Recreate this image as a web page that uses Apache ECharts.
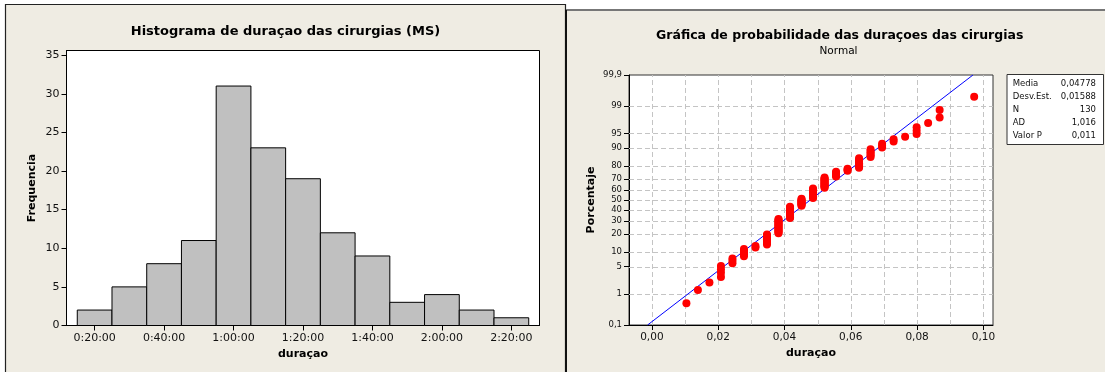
<!DOCTYPE html>
<html>
<head>
<meta charset="utf-8">
<script src="https://cdn.jsdelivr.net/npm/echarts@6/dist/echarts.min.js"></script>
<style>
  html, body { margin: 0; padding: 0; background: #ffffff; }
  #c { width: 1105px; height: 372px; }
</style>
</head>
<body>
<div id="c"></div>
<script>
// ---- Histogram: bin centres (minutes) and frequencies ----
const binCenters = [20, 30, 40, 50, 60, 70, 80, 90, 100, 110, 120, 130, 140];
const binCounts  = [2, 5, 8, 11, 31, 23, 19, 12, 9, 3, 4, 2, 1];
const binWidth = 10;
const histXTicks = [20, 40, 60, 80, 100, 120, 140];
const histYTicks = [0, 5, 10, 15, 20, 25, 30, 35];

// ---- Probability plot: observed durations (minutes) and how many surgeries had each ----
const durMinutes = [15, 20, 25, 30, 35, 40, 45, 50, 55, 60, 65, 70, 75, 80, 85, 90, 95, 100, 105, 110, 115, 120, 125, 140];
const durCounts  = [1, 1, 1, 4, 3, 5, 2, 9, 16, 15, 10, 13, 13, 6, 3, 9, 6, 3, 2, 1, 3, 1, 2, 1];

// Fitted normal (durations in days) and summary table
const fitMean = 0.04778;
const fitSd = 0.01588;
const statLabels = ['Media', 'Desv.Est.', 'N', 'AD', 'Valor P'];
const statValues = ['0,04778', '0,01588', '130', '1,016', '0,011'];

// Axis ticks of the probability plot
const probYTicks = [0.1, 1, 5, 10, 20, 30, 40, 50, 60, 70, 80, 90, 95, 99, 99.9];
const probXTicks = [0, 0.02, 0.04, 0.06, 0.08, 0.10];
const probXGrid  = [0, 0.01, 0.02, 0.03, 0.04, 0.05, 0.06, 0.07, 0.08, 0.09, 0.10];

const BG = '#efece3';
const FONT = '"DejaVu Sans", Verdana, sans-serif';

// Inverse of the standard normal CDF (Acklam's rational approximation)
function normInv(p) {
  const a = [-3.969683028665376e+01, 2.209460984245205e+02, -2.759285104469687e+02, 1.383577518672690e+02, -3.066479806614716e+01, 2.506628277459239e+00];
  const b = [-5.447609879822406e+01, 1.615858368580409e+02, -1.556989798598866e+02, 6.680131188771972e+01, -1.328068155288572e+01];
  const c = [-7.784894002430293e-03, -3.223964580411365e-01, -2.400758277161838e+00, -2.549732539343734e+00, 4.374664141464968e+00, 2.938163982698783e+00];
  const d = [7.784695709041462e-03, 3.224671290700398e-01, 2.445134137142996e+00, 3.754408661907416e+00];
  const pl = 0.02425, ph = 1 - pl;
  let q, r;
  if (p < pl) {
    q = Math.sqrt(-2 * Math.log(p));
    return (((((c[0] * q + c[1]) * q + c[2]) * q + c[3]) * q + c[4]) * q + c[5]) / ((((d[0] * q + d[1]) * q + d[2]) * q + d[3]) * q + 1);
  }
  if (p > ph) {
    q = Math.sqrt(-2 * Math.log(1 - p));
    return -(((((c[0] * q + c[1]) * q + c[2]) * q + c[3]) * q + c[4]) * q + c[5]) / ((((d[0] * q + d[1]) * q + d[2]) * q + d[3]) * q + 1);
  }
  q = p - 0.5; r = q * q;
  return (((((a[0] * r + a[1]) * r + a[2]) * r + a[3]) * r + a[4]) * r + a[5]) * q / (((((b[0] * r + b[1]) * r + b[2]) * r + b[3]) * r + b[4]) * r + 1);
}

// Probability-scale axis works in z units; labels are mapped back to percent
const yTickZ = probYTicks.map(p => normInv(p / 100));
const zLow = yTickZ[0], zHigh = yTickZ[yTickZ.length - 1];
const xLow = -0.0069, xHigh = 0.1029;
function pctLabel(z) {
  let best = 0;
  yTickZ.forEach((t, i) => { if (Math.abs(t - z) < Math.abs(yTickZ[best] - z)) best = i; });
  return String(probYTicks[best]).replace('.', ',');
}

// Plotting positions: Benard median ranks
const n = durCounts.reduce((s, v) => s + v, 0);
const probPoints = [];
let rank = 0;
durMinutes.forEach((m, k) => {
  for (let j = 0; j < durCounts[k]; j++) {
    rank++;
    probPoints.push([m / 1440, normInv((rank - 0.3) / (n + 0.4))]);
  }
});
const fitLine = [[fitMean + fitSd * zLow, zLow], [fitMean + fitSd * zHigh, zHigh]];

function hms(m) {
  const h = Math.floor(m / 60), mm = Math.round(m % 60);
  return h + ':' + (mm < 10 ? '0' : '') + mm + ':00';
}

const chart = echarts.init(document.getElementById('c'), null, { renderer: 'canvas' });

const gridStroke = { stroke: '#c4c4c4', lineWidth: 1, lineDash: [5, 3] };
const axisNameStyle = { fontFamily: FONT, fontWeight: 'bold', fontSize: 11, color: '#000' };

// dashed reference lines: kind 0 = vertical at x, kind 1 = horizontal at z
const gridRefs = probXGrid.map(v => [0, v]).concat(yTickZ.slice(1, -1).map(z => [1, z]));

chart.setOption({
  animation: false,
  backgroundColor: '#ffffff',
  grid: [
    { left: 66.5, top: 50.5, width: 473, height: 275, show: true, backgroundColor: '#ffffff', borderColor: '#000', borderWidth: 1, containLabel: false },
    { left: 629, top: 75, width: 364, height: 250, show: true, backgroundColor: '#ffffff', borderColor: '#333', borderWidth: 1, containLabel: false }
  ],
  xAxis: [
    {
      gridIndex: 0, type: 'value', min: 11.9, max: 148.1,
      name: 'duraçao', nameLocation: 'middle', nameGap: 23, nameTextStyle: axisNameStyle,
      axisLine: { show: true, onZero: false, lineStyle: { color: '#000', width: 1 } },
      axisTick: { show: true, length: 5, customValues: histXTicks, lineStyle: { color: '#000' } },
      axisLabel: { customValues: histXTicks, margin: 7, fontFamily: FONT, fontSize: 11, color: '#111', formatter: hms },
      splitLine: { show: false }
    },
    {
      gridIndex: 1, type: 'value', min: xLow, max: xHigh,
      name: 'duraçao', nameLocation: 'middle', nameGap: 21, nameTextStyle: axisNameStyle,
      axisLine: { show: true, onZero: false, lineStyle: { color: '#000', width: 1 } },
      axisTick: { show: true, length: 5, customValues: probXTicks, lineStyle: { color: '#000' } },
      axisLabel: { customValues: probXTicks, margin: 7, fontFamily: FONT, fontSize: 10.5, color: '#111',
                   formatter: v => v.toFixed(2).replace('.', ',') },
      splitLine: { show: false }
    }
  ],
  yAxis: [
    {
      gridIndex: 0, type: 'value', min: 0, max: 35.6,
      name: 'Frequencia', nameLocation: 'middle', nameGap: 29, nameTextStyle: axisNameStyle,
      axisLine: { show: true, onZero: false, lineStyle: { color: '#000', width: 1 } },
      axisTick: { show: true, length: 5, customValues: histYTicks, lineStyle: { color: '#000' } },
      axisLabel: { customValues: histYTicks, margin: 7, fontFamily: FONT, fontSize: 11, color: '#111' },
      splitLine: { show: false }
    },
    {
      gridIndex: 1, type: 'value', min: zLow, max: zHigh,
      name: 'Porcentaje', nameLocation: 'middle', nameGap: 32, nameTextStyle: axisNameStyle,
      axisLine: { show: true, onZero: false, lineStyle: { color: '#000', width: 1 } },
      axisTick: { show: true, length: 5, customValues: yTickZ, lineStyle: { color: '#000' } },
      axisLabel: { customValues: yTickZ, margin: 7, fontFamily: FONT, fontSize: 8.5, color: '#111',
                   formatter: pctLabel, showMinLabel: true, showMaxLabel: true, hideOverlap: false },
      splitLine: { show: false }
    }
  ],
  series: [
    {
      type: 'custom', xAxisIndex: 0, yAxisIndex: 0,
      data: binCenters.map((c, i) => [c, binCounts[i]]),
      encode: { x: 0, y: 1 },
      renderItem: (params, api) => {
        const c = api.value(0), h = api.value(1);
        const p0 = api.coord([c - binWidth / 2, h]);
        const p1 = api.coord([c + binWidth / 2, 0]);
        return {
          type: 'rect',
          shape: { x: p0[0], y: p0[1], width: p1[0] - p0[0], height: p1[1] - p0[1] },
          style: { fill: '#c0c0c0', stroke: '#000', lineWidth: 1 }
        };
      }
    },
    {
      // dashed reference grid of the probability plot
      type: 'custom', xAxisIndex: 1, yAxisIndex: 1, z: 1, silent: true,
      data: gridRefs, encode: { x: 1 },
      renderItem: (params, api) => {
        const kind = api.value(0), v = api.value(1);
        const a = kind === 0 ? api.coord([v, zLow]) : api.coord([xLow, v]);
        const b = kind === 0 ? api.coord([v, zHigh]) : api.coord([xHigh, v]);
        const ax = kind === 0 ? Math.round(a[0]) + 0.5 : a[0];
        const ay = kind === 1 ? Math.round(a[1]) + 0.5 : a[1];
        const bx = kind === 0 ? ax : b[0];
        const by = kind === 1 ? ay : b[1];
        return { type: 'line', shape: { x1: ax, y1: ay, x2: bx, y2: by }, style: gridStroke };
      }
    },
    {
      type: 'line', xAxisIndex: 1, yAxisIndex: 1, z: 2,
      data: fitLine, symbol: 'none', clip: true,
      lineStyle: { color: '#0000ff', width: 1 }
    },
    {
      type: 'scatter', xAxisIndex: 1, yAxisIndex: 1, z: 3,
      data: probPoints, symbol: 'circle', symbolSize: 8,
      itemStyle: { color: '#ff0000', opacity: 1, borderWidth: 0 }
    }
  ],
  graphic: [
    // panel backgrounds and frames
    { type: 'rect', z: -10, shape: { x: 5.5, y: 4.5, width: 560, height: 400 },
      style: { fill: BG, stroke: '#222', lineWidth: 1.2 } },
    { type: 'rect', z: -10, shape: { x: 566, y: 10, width: 600, height: 400 },
      style: { fill: BG, stroke: null } },
    { type: 'line', z: -9, shape: { x1: 566, y1: 10, x2: 1105, y2: 10 },
      style: { stroke: '#777', lineWidth: 2 } },
    { type: 'line', z: -9, shape: { x1: 566, y1: 10, x2: 566, y2: 372 },
      style: { stroke: '#111', lineWidth: 2 } },
    // titles
    { type: 'text', x: 285.5, y: 32, style: { text: 'Histograma de duraçao das cirurgias (MS)',
      font: 'bold 13px ' + FONT, fill: '#000', textAlign: 'center', textVerticalAlign: 'middle' } },
    { type: 'text', x: 839.7, y: 36, style: { text: 'Gráfica de probabilidade das duraçoes das cirurgias',
      font: 'bold 12.5px ' + FONT, fill: '#000', textAlign: 'center', textVerticalAlign: 'middle' } },
    { type: 'text', x: 838.5, y: 51.7, style: { text: 'Normal',
      font: '10.5px ' + FONT, fill: '#000', textAlign: 'center', textVerticalAlign: 'middle' } },
    // summary table
    { type: 'rect', shape: { x: 1007, y: 74.5, width: 96.5, height: 70 },
      style: { fill: '#ffffff', stroke: '#333', lineWidth: 1 } }
  ].concat(statLabels.map((t, i) => ({
    type: 'text', x: 1012.7, y: 83.3 + i * 13.2,
    style: { text: t, font: '8.5px ' + FONT, fill: '#111', textAlign: 'left', textVerticalAlign: 'middle' }
  }))).concat(statValues.map((t, i) => ({
    type: 'text', x: 1096, y: 83.3 + i * 13.2,
    style: { text: t, font: '8.5px ' + FONT, fill: '#111', textAlign: 'right', textVerticalAlign: 'middle' }
  })))
});
</script>
</body>
</html>
